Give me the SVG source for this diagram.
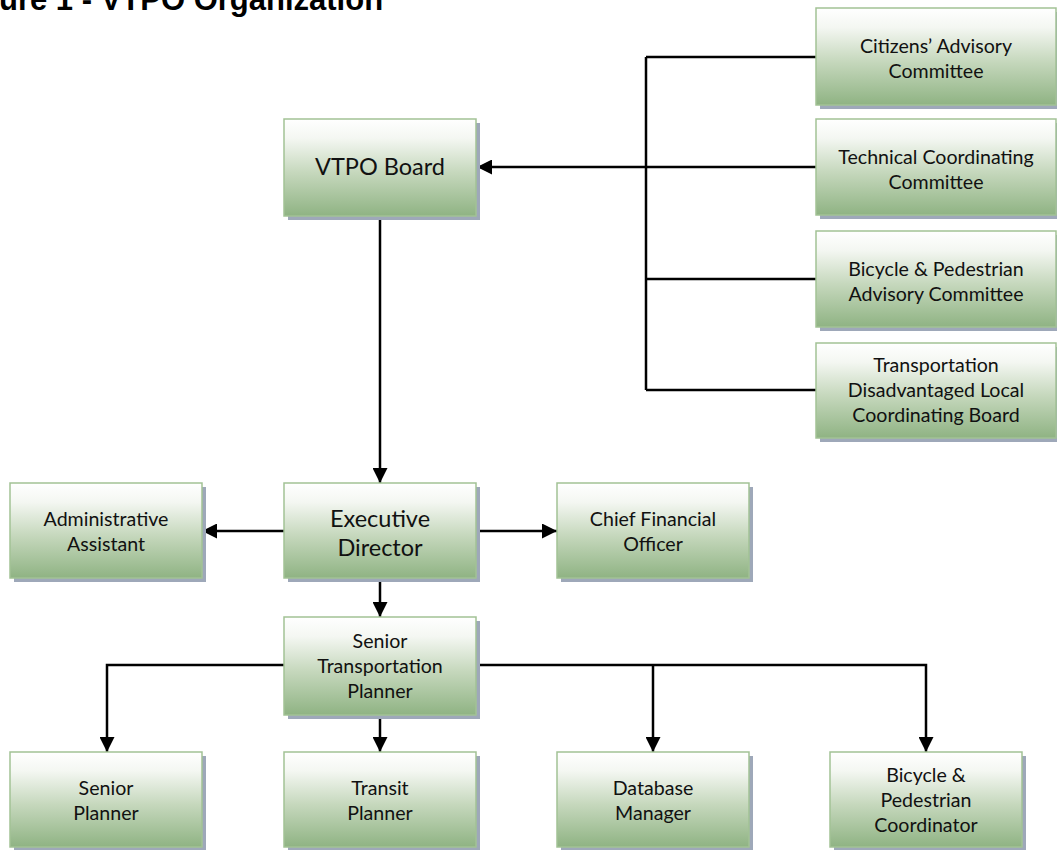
<svg xmlns="http://www.w3.org/2000/svg" width="1057" height="850" viewBox="0 0 1057 850">
<defs>
<linearGradient id="g" x1="0" y1="0" x2="0" y2="1">
<stop offset="0" stop-color="#ffffff"/>
<stop offset="0.2" stop-color="#f4f7f2"/>
<stop offset="0.55" stop-color="#c6d8bd"/>
<stop offset="1" stop-color="#8fb383"/>
</linearGradient>
<marker id="ah" markerUnits="userSpaceOnUse" markerWidth="16" markerHeight="15" refX="15" refY="7.5" orient="auto">
<path d="M0,0 L15,7.5 L0,15 Z" fill="#000"/>
</marker>
</defs>
<style>
.sh{fill:#9ea8b9}
.bx{fill:url(#g);stroke:#a2c295;stroke-width:1.5}
.t{font-family:Lato,"Liberation Sans",sans-serif;font-size:19.6px;fill:#111;text-anchor:middle}
.tb{font-family:Lato,"Liberation Sans",sans-serif;font-size:23.5px;fill:#111;text-anchor:middle}
.c{fill:none;stroke:#000;stroke-width:2.5}
.ttl{font-family:"Liberation Sans",Arial,sans-serif;font-weight:bold;font-size:31px;fill:#000}
</style>
<rect width="1057" height="850" fill="#fff"/>
<text class="ttl" x="-1" y="10">ure 1 - VTPO Organization</text>

<g id="connectors">
<path class="c" d="M646,57 V390"/>
<path class="c" d="M646,57 H816"/>
<path class="c" d="M646,167 H816"/>
<path class="c" d="M646,279 H816"/>
<path class="c" d="M646,390 H816"/>
<path class="c" d="M646,167 H477" marker-end="url(#ah)"/>
<path class="c" d="M380,216 V483" marker-end="url(#ah)"/>
<path class="c" d="M284,531 H202" marker-end="url(#ah)"/>
<path class="c" d="M477,531 H557" marker-end="url(#ah)"/>
<path class="c" d="M380,578 V617" marker-end="url(#ah)"/>
<path class="c" d="M284,665 H107 V752" marker-end="url(#ah)"/>
<path class="c" d="M477,665 H926 V752" marker-end="url(#ah)"/>
<path class="c" d="M653,665 V752" marker-end="url(#ah)"/>
<path class="c" d="M380,715 V752" marker-end="url(#ah)"/>
</g>

<g id="vtpo-board">
<rect class="sh" x="288" y="123" width="192" height="97"/>
<rect class="bx" x="284" y="119" width="192" height="97"/>
<text class="tb" x="380" y="175">VTPO Board</text>
</g>
<g id="citizens">
<rect class="sh" x="820" y="12" width="240" height="97"/>
<rect class="bx" x="816" y="8" width="240" height="97"/>
<text class="t" x="936" y="53">Citizens’ Advisory</text>
<text class="t" x="936" y="78">Committee</text>
</g>
<g id="technical">
<rect class="sh" x="820" y="123" width="240" height="96"/>
<rect class="bx" x="816" y="119" width="240" height="96"/>
<text class="t" x="936" y="164">Technical Coordinating</text>
<text class="t" x="936" y="189">Committee</text>
</g>
<g id="bicycle-adv">
<rect class="sh" x="820" y="235" width="240" height="96"/>
<rect class="bx" x="816" y="231" width="240" height="96"/>
<text class="t" x="936" y="276">Bicycle &amp; Pedestrian</text>
<text class="t" x="936" y="301">Advisory Committee</text>
</g>
<g id="transport-disadv">
<rect class="sh" x="820" y="347" width="240" height="95"/>
<rect class="bx" x="816" y="343" width="240" height="95"/>
<text class="t" x="936" y="372">Transportation</text>
<text class="t" x="936" y="397">Disadvantaged Local</text>
<text class="t" x="936" y="422">Coordinating Board</text>
</g>
<g id="admin">
<rect class="sh" x="14" y="487" width="192" height="95"/>
<rect class="bx" x="10" y="483" width="192" height="95"/>
<text class="t" x="106" y="526">Administrative</text>
<text class="t" x="106" y="551">Assistant</text>
</g>
<g id="exec">
<rect class="sh" x="288" y="487" width="192" height="95"/>
<rect class="bx" x="284" y="483" width="192" height="95"/>
<text class="tb" x="380" y="527">Executive</text>
<text class="tb" x="380" y="556">Director</text>
</g>
<g id="cfo">
<rect class="sh" x="561" y="487" width="192" height="95"/>
<rect class="bx" x="557" y="483" width="192" height="95"/>
<text class="t" x="653" y="526">Chief Financial</text>
<text class="t" x="653" y="551">Officer</text>
</g>
<g id="senior-transp-planner">
<rect class="sh" x="288" y="621" width="192" height="98"/>
<rect class="bx" x="284" y="617" width="192" height="98"/>
<text class="t" x="380" y="648">Senior</text>
<text class="t" x="380" y="673">Transportation</text>
<text class="t" x="380" y="698">Planner</text>
</g>
<g id="senior-planner">
<rect class="sh" x="14" y="756" width="192" height="95"/>
<rect class="bx" x="10" y="752" width="192" height="95"/>
<text class="t" x="106" y="795">Senior</text>
<text class="t" x="106" y="820">Planner</text>
</g>
<g id="transit-planner">
<rect class="sh" x="288" y="756" width="192" height="95"/>
<rect class="bx" x="284" y="752" width="192" height="95"/>
<text class="t" x="380" y="795">Transit</text>
<text class="t" x="380" y="820">Planner</text>
</g>
<g id="database-manager">
<rect class="sh" x="561" y="756" width="192" height="95"/>
<rect class="bx" x="557" y="752" width="192" height="95"/>
<text class="t" x="653" y="795">Database</text>
<text class="t" x="653" y="820">Manager</text>
</g>
<g id="bike-ped-coord">
<rect class="sh" x="834" y="756" width="192" height="95"/>
<rect class="bx" x="830" y="752" width="192" height="95"/>
<text class="t" x="926" y="782">Bicycle &amp;</text>
<text class="t" x="926" y="807">Pedestrian</text>
<text class="t" x="926" y="832">Coordinator</text>
</g>
</svg>
